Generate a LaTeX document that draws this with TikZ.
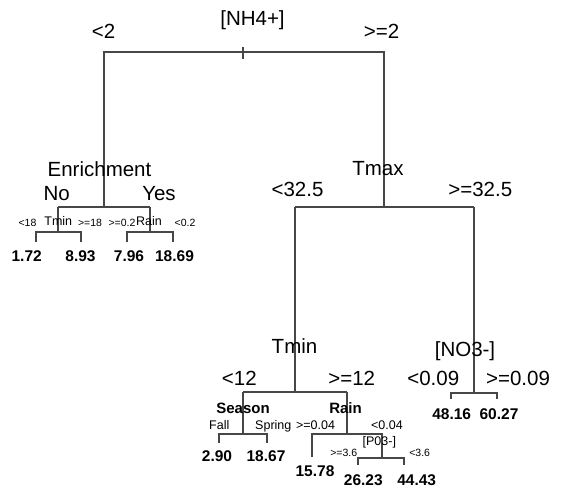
\documentclass[tikz,border=0pt]{standalone}
\usepackage{fontspec}
\setmainfont{Liberation Sans}
\begin{document}
\begin{tikzpicture}[x=1pt,y=-1pt,
  tree/.style={draw=black!72,line width=1.1pt},
  lbl/.style={inner sep=0pt,anchor=base,font=\fontsize{20.5}{24}\selectfont},
  sml/.style={inner sep=0pt,anchor=base,font=\fontsize{12.5}{14}\selectfont},
  tiny/.style={inner sep=0pt,anchor=base,font=\fontsize{10.5}{12}\selectfont},
  leaf/.style={inner sep=0pt,anchor=base,font=\fontsize{15.5}{18}\selectfont\bfseries},
  bvar/.style={inner sep=0pt,anchor=base,font=\fontsize{15}{18}\selectfont\bfseries}]
\useasboundingbox (0,0) rectangle (561,488);
% coordinates
\coordinate (r1) at (104,52); \coordinate (r2) at (384,52);
\coordinate (t1) at (243,47); \coordinate (t2) at (243,59);
\coordinate (ec) at (104,207); \coordinate (e1) at (58,207); \coordinate (e2) at (150,207);
\coordinate (a0) at (58,232); \coordinate (a1) at (36,232); \coordinate (a2) at (81,232);
\coordinate (a1b) at (36,242); \coordinate (a2b) at (81,242);
\coordinate (b0) at (150,232); \coordinate (b1) at (127,232); \coordinate (b2) at (173,232);
\coordinate (b1b) at (127,242); \coordinate (b2b) at (173,242);
\coordinate (mc) at (384,207); \coordinate (m1) at (295,207); \coordinate (m2) at (474,207);
\coordinate (n0) at (295,392); \coordinate (n1) at (243,392); \coordinate (n2) at (347,392);
\coordinate (o0) at (474,393); \coordinate (o1) at (451,393); \coordinate (o2) at (497,393);
\coordinate (o1b) at (451,399); \coordinate (o2b) at (497,399);
\coordinate (s0) at (243,434); \coordinate (s1) at (219,434); \coordinate (s2) at (267,434);
\coordinate (s1b) at (219,443); \coordinate (s2b) at (267,443);
\coordinate (p0) at (347,434); \coordinate (p1) at (312,434); \coordinate (p2) at (382,434);
\coordinate (p1b) at (312,457);
\coordinate (q0) at (382,458); \coordinate (q1) at (358,458); \coordinate (q2) at (404,458);
\coordinate (q1b) at (358,465); \coordinate (q2b) at (404,465);
% tree lines
\draw[tree] (ec) -- (r1) -- (r2) -- (mc);
\draw[tree] (t1) -- (t2);
\draw[tree] (e1) -- (e2);
\draw[tree] (e1) -- (a0); \draw[tree] (a1b) -- (a1) -- (a2) -- (a2b);
\draw[tree] (e2) -- (b0); \draw[tree] (b1b) -- (b1) -- (b2) -- (b2b);
\draw[tree] (m1) -- (m2);
\draw[tree] (m1) -- (n0); \draw[tree] (n1) -- (n2);
\draw[tree] (m2) -- (o0); \draw[tree] (o1b) -- (o1) -- (o2) -- (o2b);
\draw[tree] (n1) -- (s0); \draw[tree] (s1b) -- (s1) -- (s2) -- (s2b);
\draw[tree] (n2) -- (p0); \draw[tree] (p1b) -- (p1) -- (p2) -- (q0);
\draw[tree] (q1b) -- (q1) -- (q2) -- (q2b);
% root labels
\node[lbl] (nh4) at (252.5,25) {[NH4+]};
\node[lbl] (lt2) at (103.5,38) {<2};
\node[lbl] (ge2) at (381.5,38) {>=2};
% Enrichment subtree
\node[lbl] (enr) at (99.5,176.5) {Enrichment};
\node[lbl] (no) at (56.7,200) {No};
\node[lbl] (yes) at (159,200) {Yes};
\node[tiny] (lt18) at (27.5,226.5) {<18};
\node[sml] (tmin1) at (58.3,225.5) {Tmin};
\node[tiny] (ge18) at (90,226.5) {>=18};
\node[tiny] (ge02) at (122,226.5) {>=0.2};
\node[sml] (rain1) at (149,225.5) {Rain};
\node[tiny] (lt02) at (185,226.5) {<0.2};
\node[leaf] (v172) at (26.7,261) {1.72};
\node[leaf] (v893) at (80.5,261) {8.93};
\node[leaf] (v796) at (129,261) {7.96};
\node[leaf] (v1869) at (174.5,261) {18.69};
% Tmax subtree
\node[lbl] (tmax) at (378,175) {Tmax};
\node[lbl] (lt325) at (297.5,196.7) {<32.5};
\node[lbl] (ge325) at (480.3,196.7) {>=32.5};
\node[lbl] (tmin2) at (294.5,353.3) {Tmin};
\node[lbl] (lt12) at (239.3,385) {<12};
\node[lbl] (ge12) at (351.7,385) {>=12};
\node[lbl] (no3) at (465,356.7) {[NO3-]};
\node[lbl] (lt009) at (433.3,385) {<0.09};
\node[lbl] (ge009) at (518,385) {>=0.09};
\node[leaf] (v4816) at (451.7,419.5) {48.16};
\node[leaf] (v6027) at (499,419.5) {60.27};
% Season / Rain
\node[bvar] (season) at (243,413.3) {Season};
\node[sml] (fall) at (219.3,429.5) {Fall};
\node[sml] (spring) at (273.3,429.5) {Spring};
\node[leaf] (v290) at (217,461.7) {2.90};
\node[leaf] (v1867) at (266,461.7) {18.67};
\node[bvar] (rain2) at (345.5,413.3) {Rain};
\node[sml] (ge004) at (315.5,429.5) {>=0.04};
\node[sml] (lt004) at (387,429.5) {<0.04};
\node[sml] (po3) at (379.3,445) {[P03-]};
\node[tiny] (ge36) at (343.7,456.5) {>=3.6};
\node[tiny] (lt36) at (419.7,456.5) {<3.6};
\node[leaf] (v1578) at (315,476) {15.78};
\node[leaf] (v2623) at (363.3,485) {26.23};
\node[leaf] (v4443) at (416.7,485) {44.43};
\end{tikzpicture}
\end{document}
